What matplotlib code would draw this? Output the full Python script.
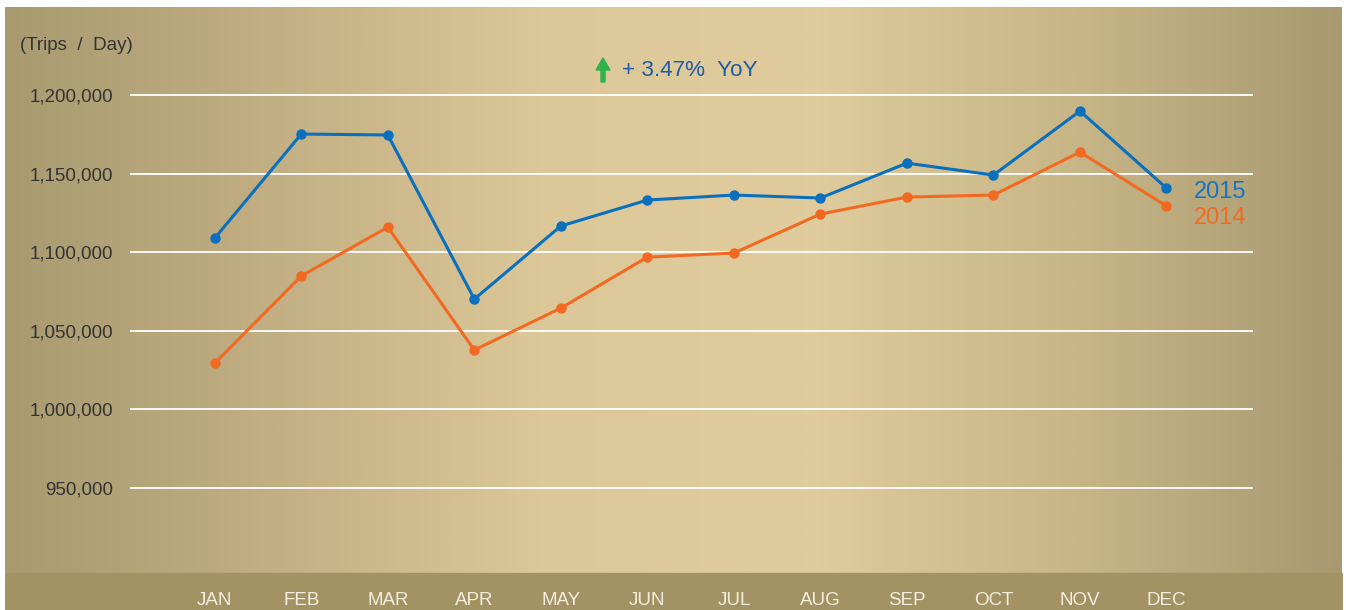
import numpy as np
import matplotlib
matplotlib.use("Agg")
import matplotlib.pyplot as plt
from matplotlib.colors import LinearSegmentedColormap
from matplotlib.patches import FancyArrow
from matplotlib.ticker import FuncFormatter

months = ["JAN", "FEB", "MAR", "APR", "MAY", "JUN", "JUL", "AUG", "SEP", "OCT", "NOV", "DEC"]
trips_2015 = [1109000, 1175200, 1174600, 1070200, 1116700, 1133200, 1136400, 1134500, 1156700, 1149100, 1189800, 1140800]
trips_2014 = [1029500, 1084900, 1116000, 1037800, 1064500, 1096900, 1099500, 1124300, 1135100, 1136400, 1163700, 1129400]
y_ticks = [950000, 1000000, 1050000, 1100000, 1150000, 1200000]
unit_label = "(Trips  /  Day)"
yoy_label = "+ 3.47%  YoY"
series_labels = ["2015", "2014"]

W, H = 1346, 610
fig = plt.figure(figsize=(W / 100, H / 100), dpi=100)
fig.patch.set_facecolor("white")

FONT = ["Liberation Sans", "DejaVu Sans"]

# background gradient
bg = fig.add_axes([5 / W, 0, (1342 - 5) / W, 1 - 7 / H], zorder=0)
cmap = LinearSegmentedColormap.from_list(
    "gold", ["#a99a70", "#c2af83", "#dcc798", "#e0cc9c", "#c8b687", "#a89970"])
grad = np.linspace(0, 1, 512)[None, :]
bg.imshow(grad, aspect="auto", cmap=cmap, extent=[0, 1, 0, 1])
bg.fill_between([0, 1], 0, (610 - 573) / (610 - 7), color="#a39263", zorder=2)
bg.set_xlim(0, 1)
bg.set_ylim(0, 1)
bg.axis("off")

ax = fig.add_axes([130 / W, 1 - 573 / H, (1253 - 130) / W, (573 - 7) / H], zorder=1)
ax.patch.set_alpha(0)
x = np.arange(len(months))
ax.set_xlim(-0.98, 12.0)
ax.set_ylim(896000, 1256000)
for t in y_ticks:
    ax.axhline(t, color="white", lw=1.3, zorder=1)
ax.plot(x, trips_2015, color="#0a6fbd", lw=2.2, marker="o", ms=6.5, zorder=3)
ax.plot(x, trips_2014, color="#f26a22", lw=2.2, marker="o", ms=6.5, zorder=3)

for s in ax.spines.values():
    s.set_visible(False)
ax.set_yticks(y_ticks)
ax.yaxis.set_major_formatter(FuncFormatter(lambda v, p: f"{int(v):,}"))
ax.tick_params(axis="y", length=0, pad=12, labelsize=13.5, labelcolor="#333333")
ax.set_xticks(x)
ax.set_xticklabels(months)
ax.tick_params(axis="x", length=0, pad=14, labelsize=13.5, labelcolor="#f3eedd")
for lab in ax.get_xticklabels() + ax.get_yticklabels():
    lab.set_fontfamily(FONT)

fig.text(20 / W, 1 - 45 / H, unit_label, fontsize=13.5, color="#333333",
         va="center", ha="left", family=FONT)
fig.text(622 / W, 1 - 71 / H, yoy_label, fontsize=16.2, color="#1f5ca6",
         va="center", ha="left", family=FONT)
arrow = FancyArrow(603 / W, 1 - 82 / H, 0, 24 / H, width=4 / W, head_width=14 / W,
                   head_length=12 / H, length_includes_head=True, color="#2db34a",
                   transform=fig.transFigure)
fig.patches.append(arrow)

ax.annotate(series_labels[0], (x[-1], trips_2015[-1]), xytext=(20, -2.5),
            textcoords="offset points", color="#1a73c0", fontsize=17,
            va="center", ha="left", family=FONT)
ax.annotate(series_labels[1], (x[-1], trips_2014[-1]), xytext=(20, -8.8),
            textcoords="offset points", color="#f26b21", fontsize=17,
            va="center", ha="left", family=FONT)

fig.savefig("out.png", dpi=100, facecolor=fig.get_facecolor())
